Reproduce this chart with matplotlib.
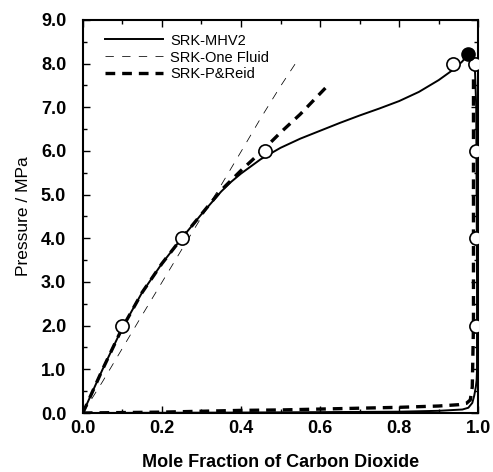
import matplotlib
matplotlib.use("Agg")
import matplotlib.pyplot as plt
from matplotlib.ticker import MultipleLocator, FormatStrFormatter

plt.rcParams['font.family'] = ['Liberation Sans', 'DejaVu Sans']
plt.rcParams['lines.scale_dashes'] = False

# SRK-MHV2 (solid) - bubble branch then dew branch
mhv2_bub_x = [0, 0.05, 0.1, 0.15, 0.2, 0.25, 0.3, 0.35, 0.375, 0.4, 0.45, 0.5, 0.55,
              0.6, 0.65, 0.7, 0.75, 0.8, 0.85, 0.9, 0.94, 0.96, 0.975]
mhv2_bub_p = [0, 1.0, 1.95, 2.76, 3.42, 4.0, 4.55, 5.07, 5.29, 5.48, 5.81, 6.07, 6.28,
              6.46, 6.64, 6.81, 6.97, 7.14, 7.35, 7.62, 7.88, 8.05, 8.22]
mhv2_dew_x = [0.975, 0.985, 0.992, 0.995, 0.996, 0.997, 0.997, 0.996, 0.994, 0.99,
              0.985, 0.975, 0.96, 0.9, 0.8, 0.6, 0.4, 0.2, 0.0]
mhv2_dew_p = [8.22, 8.1, 7.8, 7.0, 5.0, 3.0, 1.0, 0.75, 0.6, 0.4,
              0.23, 0.12, 0.08, 0.05, 0.03, 0.02, 0.01, 0.005, 0.0]

# SRK-One Fluid (thin dashed)
one_x = [0, 0.05, 0.1, 0.15, 0.2, 0.25, 0.3, 0.35, 0.4, 0.45, 0.5, 0.545]
one_p = [0, 0.72, 1.48, 2.24, 2.99, 3.74, 4.48, 5.22, 5.98, 6.75, 7.48, 8.1]

# SRK-P&Reid (thick dashed)
pr_bub_x = [0, 0.05, 0.1, 0.15, 0.2, 0.25, 0.3, 0.35, 0.4, 0.45, 0.5, 0.55, 0.62]
pr_bub_p = [0, 1.0, 1.95, 2.76, 3.42, 4.0, 4.55, 5.1, 5.55, 5.97, 6.42, 6.84, 7.5]
pr_dew_x = [0, 0.1, 0.2, 0.3, 0.4, 0.5, 0.6, 0.7, 0.8, 0.9, 0.95, 0.97, 0.98,
            0.985, 0.988, 0.988]
pr_dew_p = [0, 0.01, 0.02, 0.04, 0.06, 0.07, 0.09, 0.11, 0.13, 0.16, 0.19, 0.22,
            0.3, 0.6, 2.0, 7.65]

# experimental points
exp_x = [0.1, 0.25, 0.46, 0.935, 0.992, 0.995, 0.995, 0.995]
exp_p = [2.0, 4.0, 6.0, 8.0, 8.0, 6.0, 4.0, 2.0]
crit_x = [0.975]
crit_p = [8.22]

fig = plt.figure(figsize=(4.93, 4.72), dpi=100)
ax = fig.add_axes([0.168, 0.125, 0.802, 0.833])

ax.plot(mhv2_bub_x + mhv2_dew_x, mhv2_bub_p + mhv2_dew_p, color='black', lw=1.4,
        label='SRK-MHV2')
ax.plot(one_x, one_p, color='black', lw=0.55, dashes=(6, 6), label='SRK-One Fluid')
ax.plot(pr_bub_x, pr_bub_p, color='black', lw=2.4, dashes=(7, 5),
        label='SRK-P&Reid')
ax.plot(pr_dew_x, pr_dew_p, color='black', lw=2.4, dashes=(7, 5))

ax.plot(exp_x, exp_p, 'o', ms=9.5, mfc='white', mec='black', mew=1.2, zorder=5)
ax.plot(crit_x, crit_p, 'o', ms=9.5, mfc='black', mec='black', zorder=6)

ax.set_xlim(0, 1.0)
ax.set_ylim(0, 9.0)
ax.xaxis.set_major_locator(MultipleLocator(0.2))
ax.xaxis.set_minor_locator(MultipleLocator(0.1))
ax.yaxis.set_major_locator(MultipleLocator(1.0))
ax.yaxis.set_minor_locator(MultipleLocator(0.5))
ax.xaxis.set_major_formatter(FormatStrFormatter('%.1f'))
ax.yaxis.set_major_formatter(FormatStrFormatter('%.1f'))
ax.tick_params(which='both', direction='in', top=True, right=True, width=1)
ax.tick_params(which='major', length=5)
ax.tick_params(which='minor', length=3)
ax.tick_params(axis='y', pad=12)
ax.tick_params(axis='x', pad=5)
for lab in ax.get_xticklabels() + ax.get_yticklabels():
    lab.set_fontsize(13)
    lab.set_fontweight('bold')
for sp in ax.spines.values():
    sp.set_linewidth(1.5)

ax.set_xlabel('Mole Fraction of Carbon Dioxide', fontsize=13, fontweight='bold',
              labelpad=12)
ax.set_ylabel('Pressure / MPa', fontsize=12.5, labelpad=7)

ax.legend(loc='upper left', bbox_to_anchor=(0.055, 0.965), frameon=False,
          fontsize=10.5, handlelength=4, handletextpad=0.5, labelspacing=0.2,
          borderpad=0, borderaxespad=0)

fig.savefig('out.png', dpi=100)
